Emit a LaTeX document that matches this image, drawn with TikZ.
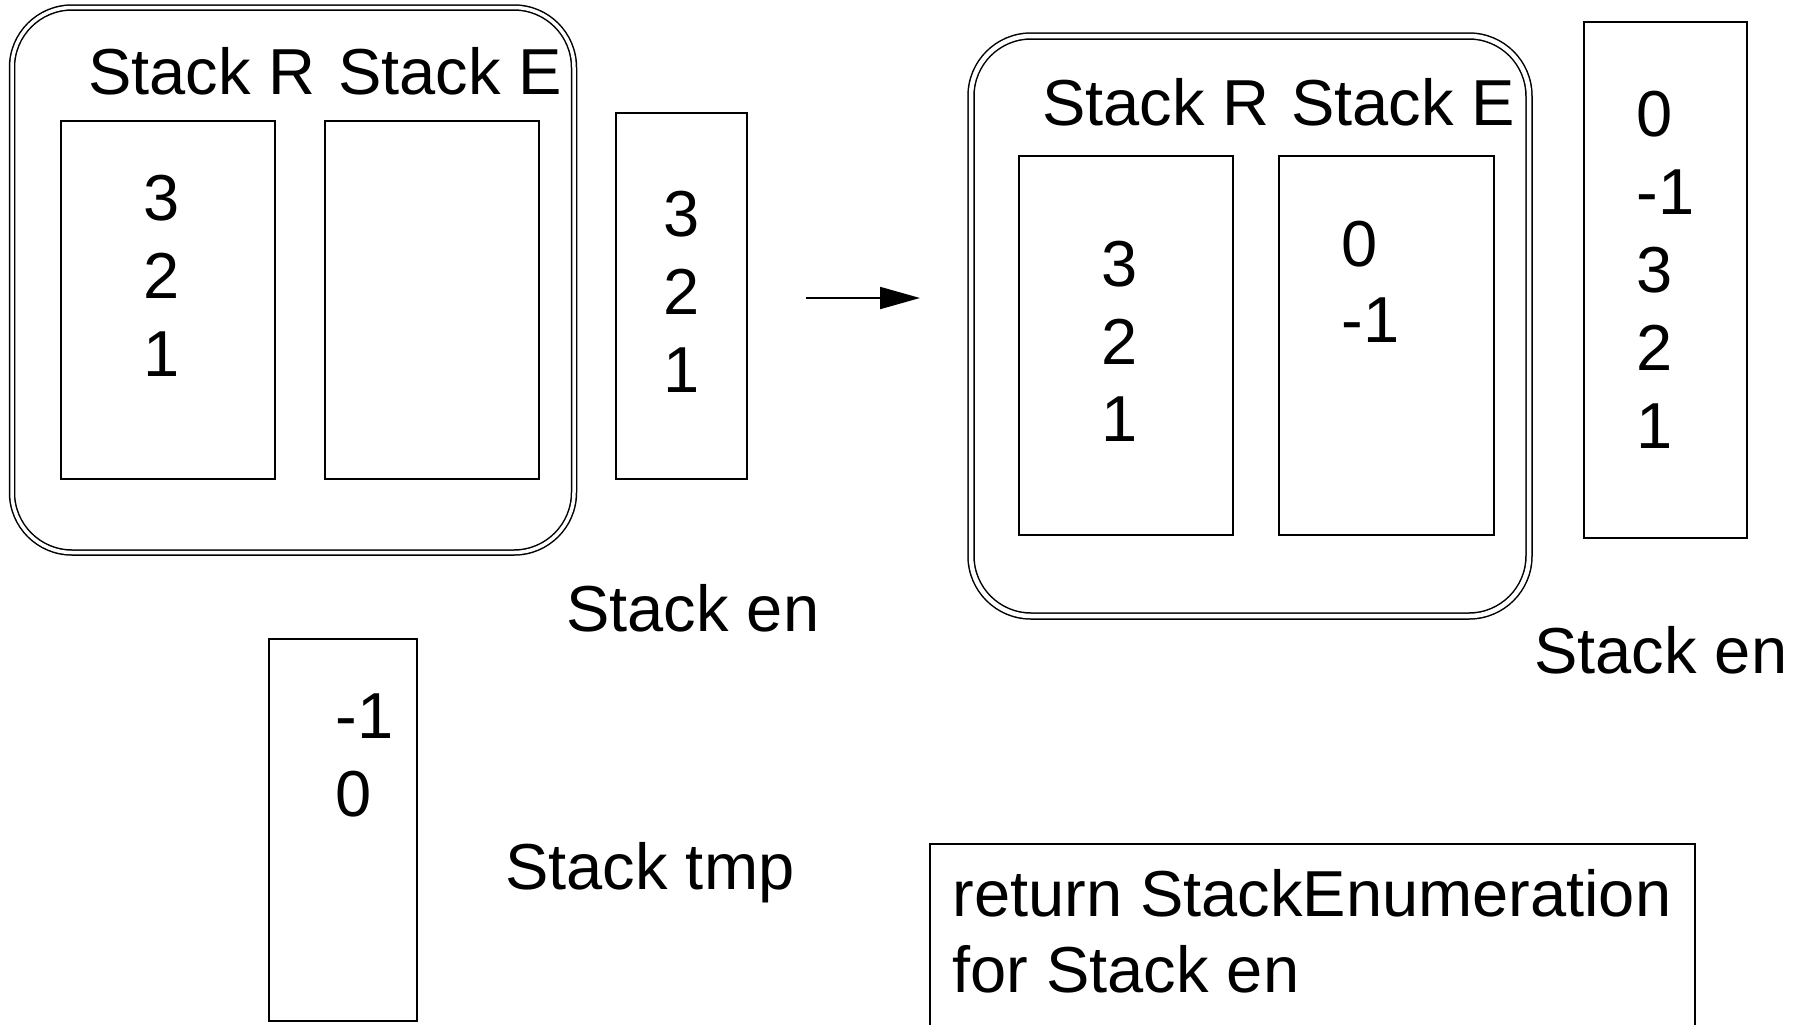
\documentclass[tikz,border=0pt]{standalone}
\usepackage{fontspec}
\setmainfont{Liberation Sans}
\usetikzlibrary{arrows.meta}

\tikzset{
  % coordinates are given in pixels, y grows downwards
  txt/.style={inner sep=0pt, anchor=base west, font=\fontsize{32.5}{39}\selectfont},
  stackbox/.style={draw, line width=1pt, rectangle, inner sep=0pt},
  holder/.style={draw, line width=0.75pt, double, double distance=1.75pt,
                 rectangle, rounded corners=30pt, inner sep=0pt},
  flow/.style={line width=1pt, -{Triangle[length=20pt, width=11pt]}}
}

\begin{document}
\begin{tikzpicture}[x=0.5pt, y=-0.5pt]
\useasboundingbox (0,0) rectangle (1796,1024);

% ---------- state before ----------
\node[holder, minimum width=281pt, minimum height=272.5pt] (holderA) at (293,280) {};
\node[txt] (labRA) at (88,94) {Stack R};
\node[txt] (labEA) at (338,94) {Stack E};
\node[stackbox, minimum width=107pt, minimum height=179pt] (stackRA) at (168,300) {};
\node[stackbox, minimum width=107pt, minimum height=179pt] (stackEA) at (432,300) {};
\node[txt] (ra3) at (143,220) {3};
\node[txt] (ra2) at (143,298) {2};
\node[txt] (ra1) at (143,376) {1};

\node[stackbox, minimum width=65.5pt, minimum height=183pt] (enA) at (681.5,296) {};
\node[txt] (ea3) at (663,236) {3};
\node[txt] (ea2) at (663,314) {2};
\node[txt] (ea1) at (663,392) {1};
\node[txt] (labEnA) at (566,631) {Stack en};

% temporary stack
\node[stackbox, minimum width=74pt, minimum height=191pt] (tmp) at (343,830) {};
\node[txt] (t1) at (335,738) {-1};
\node[txt] (t0) at (335,816) {0};
\node[txt] (labTmp) at (505,889) {Stack tmp};

% ---------- transition ----------
\coordinate (arrS) at (806,298);
\coordinate (arrE) at (920,298);
\draw[flow] (arrS) -- (arrE);

% ---------- state after ----------
\node[holder, double distance=2.25pt, minimum width=279pt, minimum height=290pt] (holderB) at (1250,326) {};
\node[txt] (labRB) at (1042,125) {Stack R};
\node[txt] (labEB) at (1291,125) {Stack E};
\node[stackbox, minimum width=107pt, minimum height=189.5pt] (stackRB) at (1126,345.5) {};
\node[stackbox, minimum width=107.5pt, minimum height=189.5pt] (stackEB) at (1386.5,345.5) {};
\node[txt] (rb3) at (1101,286) {3};
\node[txt] (rb2) at (1101,364) {2};
\node[txt] (rb1) at (1101,441) {1};
\node[txt] (eb0) at (1341,266) {0};
\node[txt] (ebm) at (1341,342) {-1};

\node[stackbox, minimum width=81.5pt, minimum height=258pt] (enB) at (1665.5,280) {};
\node[txt] (nb0) at (1636,136) {0};
\node[txt] (nbm) at (1636,214) {-1};
\node[txt] (nb3) at (1636,292) {3};
\node[txt] (nb2) at (1636,370) {2};
\node[txt] (nb1) at (1636,448) {1};
\node[txt] (labEnB) at (1534,673) {Stack en};

% ---------- result note (runs off the lower edge) ----------
\node[inner sep=0pt, anchor=north west, minimum width=382pt, minimum height=90pt] (ret) at (930,844) {};
\draw[line width=1pt] (ret.south west) |- (ret.north east) -- (ret.south east);
\node[txt] (ret1) at (952,916) {return StackEnumeration};
\node[txt] (ret2) at (952,992) {for Stack en};
\end{tikzpicture}
\end{document}
